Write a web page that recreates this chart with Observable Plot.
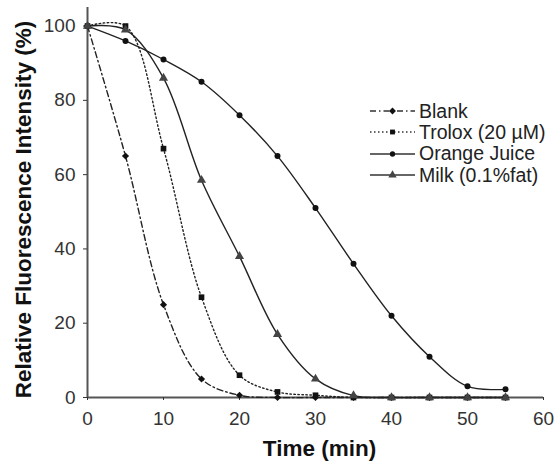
<!DOCTYPE html>
<html>
<head>
<meta charset="utf-8">
<script src="https://cdn.jsdelivr.net/npm/d3@7"></script>
<script src="https://cdn.jsdelivr.net/npm/@observablehq/plot@0.6"></script>
<style>
  html, body { margin: 0; padding: 0; background: #fff; }
  #wrap { position: relative; width: 557px; height: 463px; }
  svg { font-family: "Liberation Sans", Arial, sans-serif; }
  g[aria-label="x-axis label"] text, g[aria-label="y-axis label"] text { font-weight: bold; fill: #111; font-size: 22.5px; }
  #legend { position: absolute; left: 369px; top: 100.5px; font-family: "Liberation Sans", Arial, sans-serif; font-size: 19.5px; color: #222; }
  #legend div { display: flex; align-items: center; height: 21.3px; white-space: nowrap; }
  #legend svg { margin-right: 3px; flex: none; }
</style>
</head>
<body>
<div id="wrap"></div>
<script>
const times = [0, 5, 10, 15, 20, 25, 30, 35, 40, 45, 50, 55];
const seriesNames = ["Blank", "Trolox (20 µM)", "Orange Juice", "Milk (0.1%fat)"];
const blank  = [100, 65, 25, 5, 0.6, 0, 0, 0, 0, 0, 0, 0];
const trolox = [100, 100, 67, 27, 6, 1.5, 0.6, 0, 0, 0, 0, 0];
const orange = [100, 96, 91, 85, 76, 65, 51, 36, 22, 11, 3, 2.2];
const milk   = [100, 99, 86, 58.5, 38, 17, 5, 0.5, 0, 0, 0, 0];
const xTicks = [0, 10, 20, 30, 40, 50, 60];
const yTicks = [0, 20, 40, 60, 80, 100];

const styles = {
  "Blank": {dash: "6,3,1.5,3", symbol: "diamond2", fill: "#111", r: 3.2},
  "Trolox (20 µM)": {dash: "1.5,2.5", symbol: "square", fill: "#111", r: 3.2},
  "Orange Juice": {dash: null, symbol: "circle", fill: "#111", r: 3},
  "Milk (0.1%fat)": {dash: null, symbol: "triangle", fill: "#444", r: 3.4}
};
const valuesBy = {"Blank": blank, "Trolox (20 µM)": trolox, "Orange Juice": orange, "Milk (0.1%fat)": milk};
const rows = seriesNames.map(name => times.map((t, i) => ({series: name, time: t, value: valuesBy[name][i]})));

const marks = [
  Plot.ruleX([0], {stroke: "#555", strokeWidth: 2}),
  Plot.ruleY([0], {stroke: "#555", strokeWidth: 2}),
  Plot.axisX({ticks: xTicks, tickSize: 3, tickPadding: 11, fontSize: 19, color: "#333", label: "Time (min)", labelAnchor: "center", labelArrow: "none", labelOffset: 58}),
  Plot.axisY({ticks: yTicks, tickSize: 4, tickPadding: 8, fontSize: 19, color: "#333", label: "Relative Fluorescence Intensity (%)", labelAnchor: "center", labelArrow: "none", labelOffset: 72})
];
rows.forEach(data => {
  const s = styles[data[0].series];
  marks.push(Plot.line(data, {x: "time", y: "value", curve: "catmull-rom", stroke: "#222", strokeWidth: 1.4, strokeDasharray: s.dash}));
});
rows.forEach(data => {
  const s = styles[data[0].series];
  marks.push(Plot.dot(data, {x: "time", y: "value", symbol: () => s.symbol, fill: s.fill, stroke: "none", r: s.r}));
});

const chart = Plot.plot({
  width: 557,
  height: 463,
  marginLeft: 87,
  marginRight: 14,
  marginTop: 7,
  marginBottom: 66,
  style: {fontFamily: '"Liberation Sans", Arial, sans-serif', fontSize: "19px", background: "#fff"},
  x: {domain: [0, 60]},
  y: {domain: [0, 105]},
  symbol: {type: "identity"},
  marks
});
document.getElementById("wrap").appendChild(chart);
// nudge the axis titles so they sit like the reference
d3.select(chart).select('g[aria-label="y-axis label"] text').attr("dx", "-7");
d3.select(chart).select('g[aria-label="x-axis label"] text').attr("dx", "4");

// legend
const legend = document.createElement("div");
legend.id = "legend";
seriesNames.forEach(name => {
  const s = styles[name];
  const row = document.createElement("div");
  const sym = d3.symbol().type({diamond2: d3.symbolDiamond2, square: d3.symbolSquare2, circle: d3.symbolCircle, triangle: d3.symbolTriangle}[s.symbol]).size(s.symbol === "circle" ? 22 : 30)();
  row.innerHTML = `<svg width="47" height="12"><line x1="1" x2="46" y1="6" y2="6" stroke="#333" stroke-width="1.4" ${s.dash ? `stroke-dasharray="${s.dash}"` : ""}/><path transform="translate(23.5,6)" d="${sym}" fill="${s.fill}"/></svg><span>${name}</span>`;
  legend.appendChild(row);
});
document.getElementById("wrap").appendChild(legend);
</script>
</body>
</html>
